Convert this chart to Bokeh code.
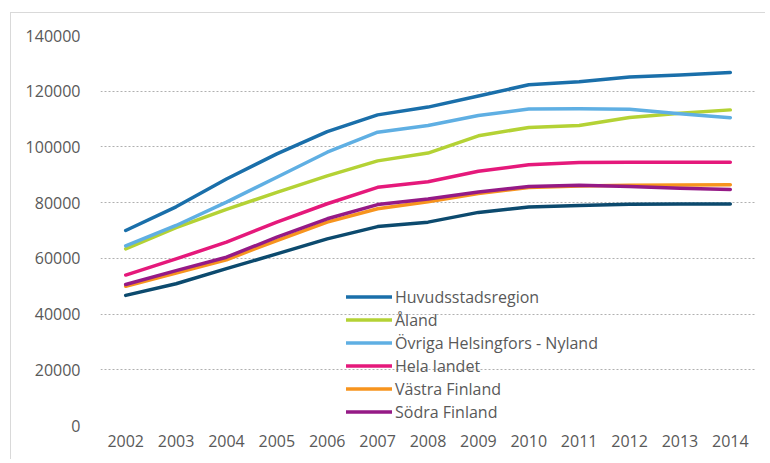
from bokeh.plotting import figure
from bokeh.models import (FactorRange, Range1d, Legend, LegendItem, FixedTicker,
                          NumeralTickFormatter)
from bokeh.embed import file_html
from bokeh.resources import INLINE

years = [str(y) for y in range(2002, 2015)]

huvud = [70000, 78500, 88500, 97500, 105500, 111500, 114300, 118300, 122300, 123400, 125100, 125800, 126700]
aland = [63400, 71000, 77600, 83700, 89600, 95000, 97800, 104000, 107000, 107700, 110600, 112100, 113300]
ovriga = [64500, 71800, 80200, 89100, 98100, 105300, 107700, 111300, 113600, 113700, 113500, 111900, 110500]
hela = [54000, 59800, 65800, 73000, 79600, 85500, 87500, 91300, 93600, 94400, 94500, 94500, 94500]
vastra = [50000, 54700, 59500, 66400, 73000, 77800, 80300, 83300, 85400, 86000, 86200, 86300, 86400]
sodra = [50600, 55600, 60400, 67600, 74200, 79300, 81300, 83800, 85800, 86200, 85800, 85200, 84700]
navy = [46700, 50900, 56300, 61600, 67000, 71400, 73000, 76500, 78400, 79000, 79400, 79500, 79500]

names = ["Huvudsstadsregion", "Åland", "Övriga Helsingfors - Nyland", "Hela landet",
         "Västra Finland", "Södra Finland"]
series = [huvud, aland, ovriga, hela, vastra, sodra, navy]
colors = ["#1A6FAA", "#B4D235", "#5FAFE3", "#E5197B", "#F7941E", "#951A86", "#0C4A6E"]
yticks = [0, 20000, 40000, 60000, 80000, 100000, 120000, 140000]

p = figure(width=755, height=447, x_range=FactorRange(*years, range_padding=0),
           y_range=Range1d(0, 140000), output_backend="svg", toolbar_location=None,
           min_border_left=89, min_border_right=11, min_border_top=22, min_border_bottom=35)
p.x_range.range_padding = 0
p.outline_line_color = None
p.background_fill_color = "white"
p.border_fill_color = "white"
p.styles = {"margin-left": "10px", "margin-top": "12px",
            "border-left": "1px solid #d9d9d9", "border-top": "1px solid #d9d9d9"}

renderers = []
for vals, col in zip(series, colors):
    r = p.line(x=years, y=vals, line_color=col, line_width=3.5, line_join="round", line_cap="round")
    renderers.append(r)

p.xgrid.grid_line_color = None
p.yaxis.ticker = FixedTicker(ticks=yticks)
p.ygrid.ticker = FixedTicker(ticks=yticks)
p.ygrid.grid_line_color = "#b0b0b0"
p.ygrid.grid_line_dash = "2 2"
p.ygrid.grid_line_width = 1
p.yaxis.formatter = NumeralTickFormatter(format="0")

for ax in (p.xaxis[0], p.yaxis[0]):
    ax.axis_line_color = None
    ax.major_tick_line_color = None
    ax.minor_tick_line_color = None
    ax.major_tick_out = 0
    ax.major_tick_in = 0
    ax.minor_tick_out = 0
    ax.major_label_text_font = "Open Sans"
    ax.major_label_text_font_size = "16px"
    ax.major_label_text_color = "#595959"
p.yaxis.major_label_standoff = 20
p.xaxis.major_label_standoff = 9

items = [LegendItem(label=n, renderers=[r]) for n, r in zip(names, renderers[:6])]
legend = Legend(items=items, location=(246, 2), orientation="vertical",
                glyph_width=46, glyph_height=23, label_height=23, label_standoff=3,
                spacing=0, padding=0, margin=0,
                label_text_font="Open Sans", label_text_font_size="16px",
                label_text_color="#595959",
                border_line_color=None, background_fill_alpha=0)
p.add_layout(legend, "center")

open("out.html", "w").write(file_html(p, INLINE))
